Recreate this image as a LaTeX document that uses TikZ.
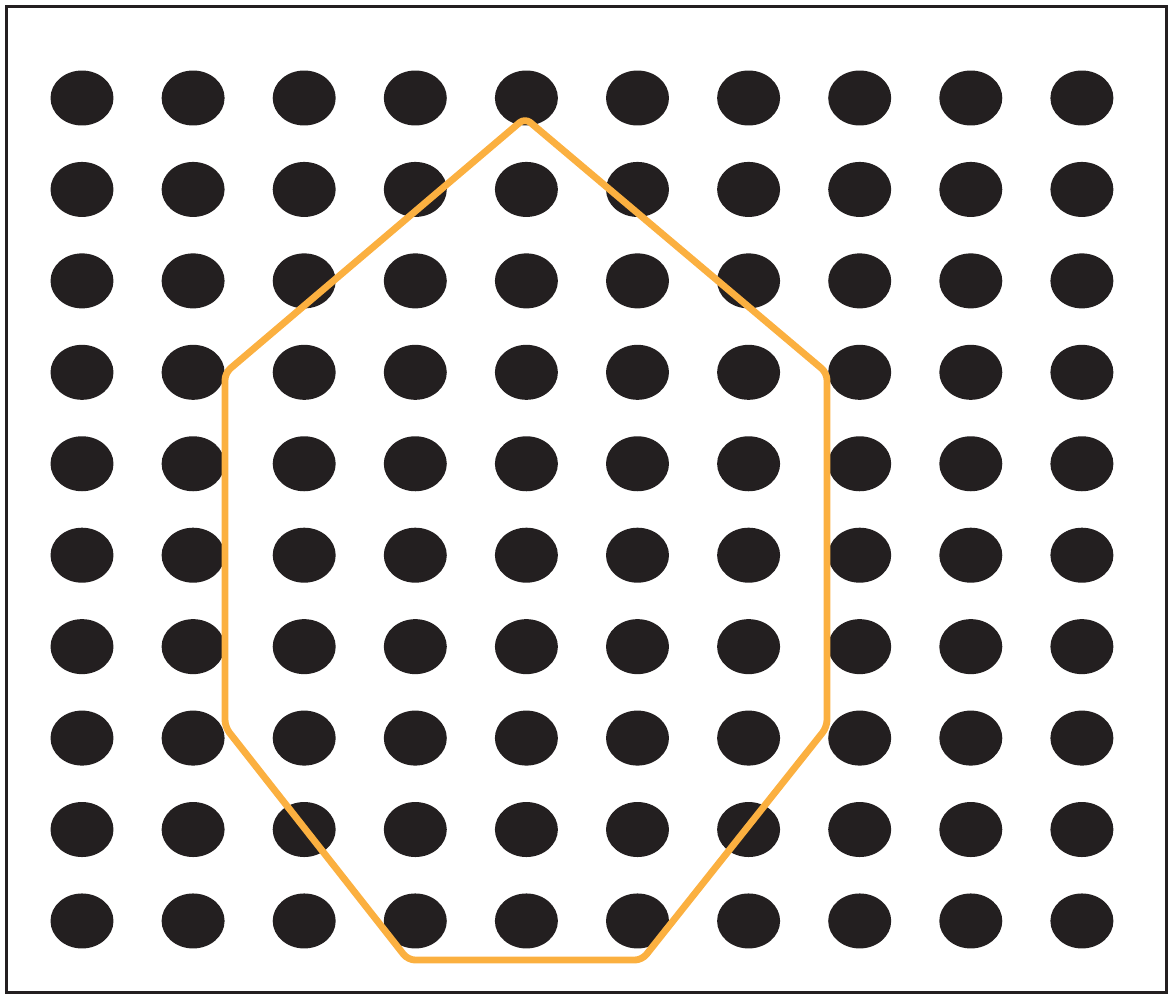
\documentclass[tikz,border=0pt]{standalone}
\usepackage{tikz}
\usetikzlibrary{shapes,shapes.geometric}
\definecolor{dotgray}{HTML}{231F20}
\definecolor{hullorange}{HTML}{FBB040}
\tikzstyle{peg} = [draw=none, fill=dotgray, shape=ellipse, minimum width=1.26cm, minimum height=1.1cm, inner sep=0pt]
\tikzstyle{frame} = [draw=dotgray, line width=1.7pt]
\tikzstyle{hull} = [draw=hullorange, line width=3.9pt, rounded corners=4pt, line join=round]

\begin{document}
\begin{tikzpicture}[x=0.02cm, y=-0.02cm]
	\useasboundingbox (0,0) rectangle (1171,994);
	\draw[frame] (6.5,6.5) rectangle (1166.5,992.5);
	% pegboard
	\foreach \i in {0,...,9} {
		\foreach \j in {0,...,9} {
			\node[peg] (p\i\j) at ({82+111.1*\i},{98+91.44*\j}) {};
		}
	}
	% band round the pegs
	\draw[hull] (525,118) -- (827,373) -- (827,727) -- (642,960)
		-- (408,960) -- (225,727) -- (225,373) -- cycle;
\end{tikzpicture}
\end{document}
